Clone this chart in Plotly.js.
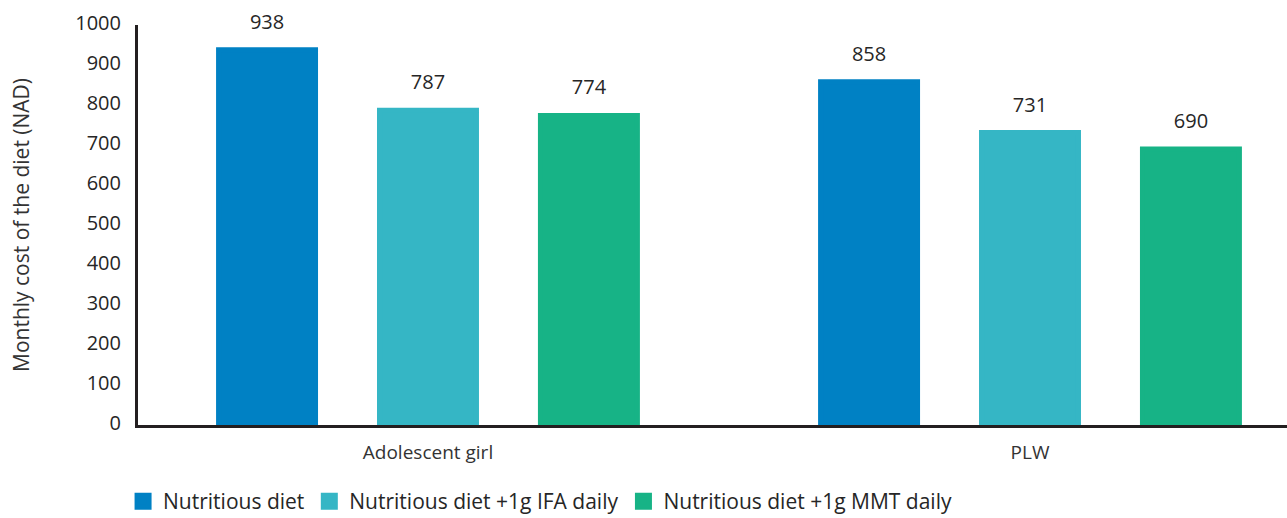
<!DOCTYPE html>
<html>
<head>
<meta charset="utf-8">
<script src="https://cdn.plot.ly/plotly-3.0.1.min.js"></script>
<style>html,body{margin:0;padding:0;background:#fff;}#chart{width:1287px;height:518px;}</style>
</head>
<body>
<div id="chart"></div>
<script>
const categories = ['Adolescent girl', 'PLW'];
const seriesNames = ['Nutritious diet', 'Nutritious diet +1g IFA daily', 'Nutritious diet +1g MMT daily'];
const nutritiousDiet = [938, 858];
const withIFA = [787, 731];
const withMMT = [774, 690];
const yTicks = [0, 100, 200, 300, 400, 500, 600, 700, 800, 900, 1000];
const colors = ['#0081C4', '#35B6C5', '#17B386'];

const series = [nutritiousDiet, withIFA, withMMT];
const textColor = '#262626';
const fontFamily = '"Open Sans", "DejaVu Sans", sans-serif';

const traces = [];
series.forEach((vals, i) => {
  traces.push({
    type: 'bar',
    name: seriesNames[i],
    x: categories,
    y: vals,
    offsetgroup: String(i),
    marker: {color: colors[i], line: {color: colors[i], width: 5}},
    hoverinfo: 'skip'
  });
});
series.forEach((vals, i) => {
  traces.push({
    type: 'scatter',
    mode: 'markers+text',
    x: categories,
    y: vals,
    offsetgroup: String(i),
    text: vals.map(String),
    textposition: 'top center',
    textfont: {size: 20, color: textColor, family: fontFamily},
    marker: {size: 24, opacity: 0},
    showlegend: false,
    cliponaxis: false,
    hoverinfo: 'skip'
  });
});

const layout = {
  width: 1287,
  height: 518,
  margin: {l: 138, r: 0, t: 25, b: 93, autoexpand: false},
  paper_bgcolor: '#ffffff',
  plot_bgcolor: '#ffffff',
  font: {family: fontFamily, color: textColor, size: 20},
  barmode: 'group',
  bargap: 0.198,
  bargroupgap: 0.3975,
  scattermode: 'group',
  scattergap: 0.198,
  showlegend: true,
  legend: {
    orientation: 'h',
    x: -0.013, xanchor: 'left',
    y: -0.2425, yanchor: 'bottom',
    font: {size: 21, color: textColor, family: fontFamily},
    itemclick: false, itemdoubleclick: false
  },
  xaxis: {
    type: 'category',
    range: [-0.4817, 1.4269],
    showline: true, linewidth: 3, linecolor: '#231f20',
    showgrid: false, zeroline: false, ticks: '',
    tickfont: {size: 19, color: '#333333', family: fontFamily},
    ticklabelstandoff: 8,
    fixedrange: true
  },
  yaxis: {
    range: [0, 1000],
    tickvals: yTicks,
    ticktext: yTicks.map(String),
    showline: true, linewidth: 3, linecolor: '#231f20',
    showgrid: false, zeroline: false, ticks: '',
    tickfont: {size: 20, color: textColor, family: fontFamily},
    ticklabelstandoff: 10,
    ticklabelshift: -2,
    title: {text: 'Monthly cost of the diet (NAD)', font: {size: 21, color: '#333333', family: fontFamily}, standoff: 40},
    fixedrange: true
  }
};

Plotly.newPlot('chart', traces, layout, {displayModeBar: false, staticPlot: true});
</script>
</body>
</html>
